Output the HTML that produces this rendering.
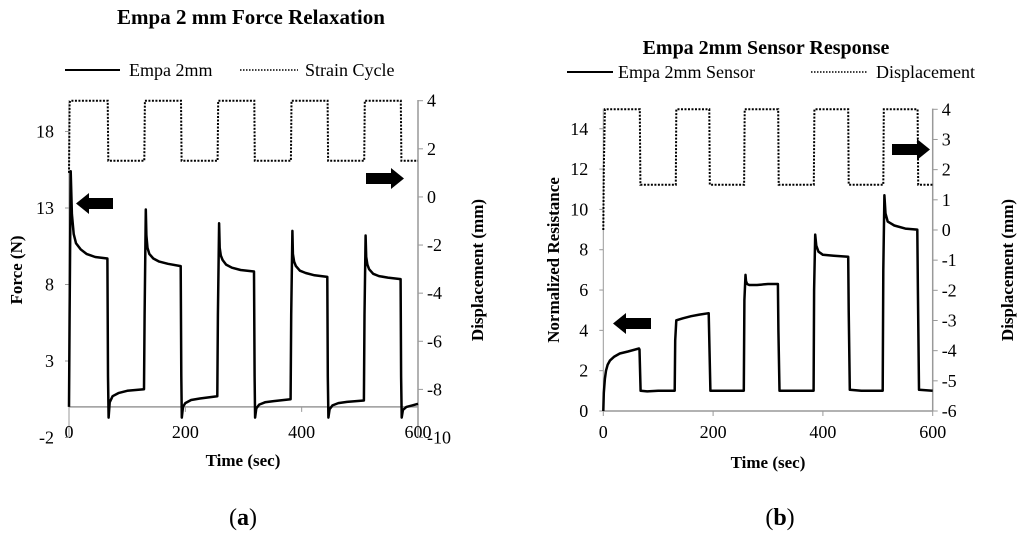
<!DOCTYPE html>
<html><head><meta charset="utf-8"><style>
html,body{margin:0;padding:0;background:#fff;}
svg{display:block;font-family:"Liberation Serif",serif;}
</style></head><body>
<svg id="fig" width="1024" height="536" viewBox="0 0 1024 536">
<text x="251" y="24" font-size="21" font-weight="bold" text-anchor="middle">Empa 2 mm Force Relaxation</text>
<g>
<line x1="65" y1="70" x2="120" y2="70" stroke="#000" stroke-width="2"/>
<text x="129" y="76" font-size="18">Empa 2mm</text>
<line x1="240" y1="70" x2="298" y2="70" stroke="#000" stroke-width="1.5" stroke-dasharray="1.5,1.5"/>
<text x="305" y="76" font-size="18">Strain Cycle</text>
</g>
<text x="766" y="54" font-size="20" font-weight="bold" text-anchor="middle">Empa 2mm Sensor Response</text>
<g>
<line x1="567" y1="72" x2="613" y2="72" stroke="#000" stroke-width="2"/>
<text x="618" y="78" font-size="18">Empa 2mm Sensor</text>
<line x1="811" y1="72" x2="868" y2="72" stroke="#000" stroke-width="1.5" stroke-dasharray="1.5,1.5"/>
<text x="876" y="78" font-size="18">Displacement</text>
</g>
<text x="22" y="270" font-size="17" font-weight="bold" text-anchor="middle" transform="rotate(-90 22 270)">Force (N)</text>
<text x="483" y="270" font-size="17" font-weight="bold" text-anchor="middle" transform="rotate(-90 483 270)">Displacement (mm)</text>
<text x="243" y="466" font-size="17" font-weight="bold" text-anchor="middle">Time (sec)</text>
<text x="559" y="260" font-size="17" font-weight="bold" text-anchor="middle" transform="rotate(-90 559 260)">Normalized Resistance</text>
<text x="1013" y="270" font-size="17" font-weight="bold" text-anchor="middle" transform="rotate(-90 1013 270)">Displacement (mm)</text>
<text x="768" y="468" font-size="17" font-weight="bold" text-anchor="middle">Time (sec)</text>
<text x="243" y="525" font-size="24" text-anchor="middle">(<tspan font-weight="bold">a</tspan>)</text>
<text x="780" y="525" font-size="24" text-anchor="middle">(<tspan font-weight="bold">b</tspan>)</text>
<polygon points="113,198 89,198 89,193 76,203.5 89,214 89,209 113,209" fill="#000"/>
<polygon points="366,173 391,173 391,168 404,178.5 391,189 391,184 366,184" fill="#000"/>
<polygon points="651,318 626,318 626,313 613,323.5 626,334 626,329 651,329" fill="#000"/>
<polygon points="892,144 917,144 917,139 930,149.5 917,160 917,155 892,155" fill="#000"/>
<g id="ga"></g><g id="gb"></g>
</svg>
<script>
// Chart A data
const aTime = [0,1,3,5,8,12,20,30,45,66,67,68,70,75,85,100,129,130,132,133,135,138,145,155,170,192,193,194,196,200,210,225,255,256,258,259,261,264,270,280,295,318,319,320,322,327,337,352,381,382,384,385,387,390,397,407,422,444,445,446,448,453,463,478,507,508,510,511,513,516,523,533,548,570,571,572,574,580,590,600];
const aForce = [0,6,15.4,12.6,11.3,10.7,10.3,10.0,9.8,9.7,2,-0.7,0.3,0.7,0.9,1.05,1.15,6,12.9,11.2,10.4,10.0,9.7,9.5,9.35,9.2,2,-0.7,0.0,0.25,0.45,0.55,0.7,6,12.0,10.4,9.9,9.6,9.3,9.1,8.95,8.85,2,-0.7,-0.1,0.15,0.3,0.38,0.5,6,11.5,10.0,9.5,9.2,8.9,8.75,8.6,8.5,2,-0.7,-0.15,0.1,0.25,0.33,0.42,6,11.2,9.8,9.3,9.0,8.7,8.55,8.45,8.35,2,-0.7,-0.2,0.0,0.1,0.2];
const aDispTime = [0,1,2,66.5,67.5,129.5,130.5,192.5,193.5,255.5,256.5,318.5,319.5,381.5,382.5,444.5,445.5,507.5,508.5,570.5,571.5,600];
const aDisp = [1,3.9,4,4,1.5,1.5,4,4,1.5,1.5,4,4,1.5,1.5,4,4,1.5,1.5,4,4,1.5,1.5];
const aXTicks = [0,200,400,600];
const aYTicks = [-2,3,8,13,18];
const aY2Ticks = [-10,-8,-6,-4,-2,0,2,4];
// Chart B data
const bTime = [0,1,3,5,8,12,20,30,45,65,66,68,80,100,130,131,133,145,160,175,192,193,195,220,256,257,259,260,262,266,280,300,318,319,321,340,383,384,386,388,392,400,420,446,447,449,470,509,510,512,514,518,530,550,572,573,575,600];
const bRes = [0,0.9,1.6,2.0,2.3,2.5,2.7,2.85,2.95,3.1,3.05,1.0,0.97,1.0,1.0,3.5,4.5,4.6,4.7,4.78,4.85,3.5,1.0,1.0,1.0,5.5,6.75,6.45,6.3,6.25,6.25,6.3,6.3,4,1.0,1.0,1.0,6,8.75,8.2,7.9,7.75,7.7,7.65,5,1.05,1.0,1.0,7,10.7,9.8,9.4,9.2,9.05,9.0,6,1.05,1.0];
const bDispTime = [0,1,3,66.5,67.5,132,133,193,194,256.5,257.5,318.5,319.5,383.5,384.5,446,447,510,511,572.5,573.5,600];
const bDisp = [0,2,4,4,1.5,1.5,4,4,1.5,1.5,4,4,1.5,1.5,4,4,1.5,1.5,4,4,1.5,1.5];
const bXTicks = [0,200,400,600];
const bYTicks = [0,2,4,6,8,10,12,14];
const bY2Ticks = [-6,-5,-4,-3,-2,-1,0,1,2,3,4];

const NS = "http://www.w3.org/2000/svg";
function mk(parent, tag, attrs){const e=document.createElementNS(NS,tag);for(const k in attrs)e.setAttribute(k,attrs[k]);parent.appendChild(e);return e;}
function lin(d0,d1,r0,r1){return v=>r0+(v-d0)/(d1-d0)*(r1-r0);}
function path(xs,ys,fx,fy){return xs.map((t,i)=>(i?'L':'M')+fx(t).toFixed(1)+','+fy(ys[i]).toFixed(1)).join('');}

function drawChart(g, cfg){
  const {x,y,y2,xTicks,yTicks,y2Ticks,left,right,top,bottom,xAxisY,tag}=cfg;
  let e=mk(g,'line',{x1:left,y1:top,x2:left,y2:bottom,stroke:'#999','stroke-width':1});
  
  
  e=mk(g,'line',{x1:right,y1:top,x2:right,y2:bottom,stroke:'#999','stroke-width':1.5});
  
  
  e=mk(g,'line',{x1:left,y1:xAxisY,x2:right,y2:xAxisY,stroke:'#999','stroke-width':1.5});
  
  
  xTicks.forEach(v=>{
    const t=mk(g,'line',{x1:x(v),y1:xAxisY,x2:x(v),y2:xAxisY+5,stroke:'#999','stroke-width':1});
    
    
    const l=mk(g,'text',{x:x(v),y:cfg.xLabelY,'font-size':18,'text-anchor':'middle'});
    l.textContent=v;
    
    
  });
  yTicks.forEach(v=>{
    const t=mk(g,'line',{x1:left-4,y1:y(v),x2:left,y2:y(v),stroke:'#999','stroke-width':1});
    
    
    const l=mk(g,'text',{x:left-15,y:y(v)+6,'font-size':18,'text-anchor':'end'});
    l.textContent=v;
    
    
  });
  y2Ticks.forEach(v=>{
    const t=mk(g,'line',{x1:right,y1:y2(v),x2:right+5,y2:y2(v),stroke:'#999','stroke-width':1});
    
    
    const l=mk(g,'text',{x:right+9,y:y2(v)+6,'font-size':18,'text-anchor':'start'});
    l.textContent=v;
    
    
  });
  e=mk(g,'path',{d:path(cfg.dt,cfg.dv,x,y2),fill:'none',stroke:'#000','stroke-width':2,'stroke-dasharray':'2,1.5'});
  
  
  e=mk(g,'path',{d:path(cfg.st,cfg.sv,x,y),fill:'none',stroke:'#000','stroke-width':2.5,'stroke-linejoin':'round'});
  
  
}

const ax=lin(0,600,69,418), ay=lin(-2,18,437.5,131.5), ay2=lin(-10,4,437.5,100.7);
drawChart(document.getElementById('ga'),{x:ax,y:ay,y2:ay2,xTicks:aXTicks,yTicks:aYTicks,y2Ticks:aY2Ticks,left:69,right:418,top:100,bottom:437.5,xAxisY:ay(0),xLabelY:438,tag:'chart-a',dt:aDispTime,dv:aDisp,st:aTime,sv:aForce});
const bx=lin(0,600,603.3,932.7), by=lin(0,15,411,108.6), by2=lin(-6,4,411,109.3);
drawChart(document.getElementById('gb'),{x:bx,y:by,y2:by2,xTicks:bXTicks,yTicks:bYTicks,y2Ticks:bY2Ticks,left:603.3,right:932.7,top:108.6,bottom:411,xAxisY:411,xLabelY:438,tag:'chart-b',dt:bDispTime,dv:bDisp,st:bTime,sv:bRes});
</script>
</body></html>
